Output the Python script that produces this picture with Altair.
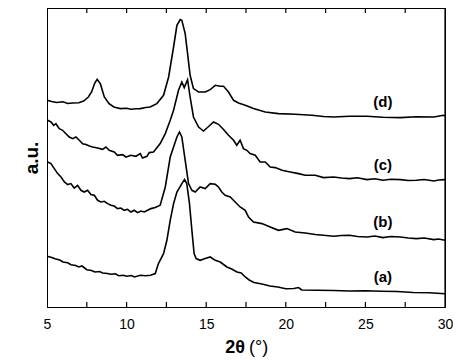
import altair as alt
import pandas as pd

# 2-theta (deg) and intensity (a.u., offset curves)
theta_a = [5.0, 5.3, 5.5, 5.8, 6.0, 6.3, 6.5, 6.8, 7.0, 7.2, 7.5, 7.8, 8.0, 8.3, 8.5, 8.8, 9.0, 9.3,
           9.5, 9.8, 10, 10.3, 10.5, 10.86, 11.2, 11.5, 11.8, 12.0, 12.32, 12.53, 12.74, 12.95, 13.16,
           13.47, 13.64, 13.78, 13.95, 14.1, 14.24, 14.37, 14.62, 14.94, 15.25, 15.57, 15.88, 16.3,
           16.6, 16.93, 17.2, 17.45, 17.7, 18, 18.5, 19, 19.5, 20, 20.5, 20.8, 21, 22, 23, 24, 25, 26,
           27, 28, 29, 29.5, 30]
int_a = [50.7, 49.5, 48.3, 47, 45, 44.2, 42.3, 41.5, 40, 41, 37.3, 36.5, 35, 35.5, 34, 33.5, 32.7, 33.2,
         31.3, 31.8, 30.7, 31.5, 30, 31.7, 31.2, 31.7, 33.4, 43.4, 53.4, 66.7, 86.7, 103.4, 115,
         123.4, 127.4, 123.4, 103.4, 76.7, 53.4, 48.4, 46.7, 48.4, 50, 46.7, 45, 40,
         38, 35, 34, 30, 27, 24.5, 23, 21, 20, 18.3, 18.5, 19.5, 17, 16.7, 16.5, 16, 16.2, 15.7,
         15.5, 14.5, 14.2, 13.8, 13.3]

theta_b = [5.04, 5.25, 5.46, 5.67, 5.88, 6.09, 6.30, 6.50, 6.71, 6.92, 7.13, 7.34, 7.55, 7.76, 7.97,
           8.18, 8.39, 8.60, 8.81, 9.01, 9.22, 9.43, 9.64, 9.85, 10.06, 10.27, 10.48, 10.69, 10.90,
           11.11, 11.32, 11.53, 11.8, 12.11, 12.43, 12.74, 12.95, 13.16, 13.32, 13.47, 13.68, 13.89,
           14.1, 14.31, 14.62, 14.94, 15.25, 15.57, 15.77, 15.98, 16.19, 16.51, 16.82, 17.13, 17.45,
           17.66, 17.97, 18.5, 19.02, 19.54, 20.07, 20.59, 21.22, 21.85, 22.37, 23.0, 23.5, 24.0,
           24.5, 25.1, 25.6, 26.1, 26.6, 27.2, 27.7, 28.2, 28.7, 29.3, 29.6, 30]
int_b = [145, 143.4, 138.4, 133.4, 130, 125, 122.4, 123.4, 119, 121.7, 116.7, 115, 116.7, 112.4, 111.7,
         106.7, 105, 105.7, 103.4, 101.7, 101, 98.4, 99, 96.7, 97.7, 95, 96.7, 94.4, 96,
         95, 96.7, 98.4, 99.4, 101.7, 120, 150, 160, 170, 175, 170, 146.7, 123.4,
         116.7, 115, 120, 118.4, 123.4, 122.7, 120, 115, 111.7, 110, 105, 100, 96.7,
         90, 85, 83.4, 80, 76.7, 78.4, 75, 74, 72.5, 71.7, 70.7, 71.5, 71.7,
         70.5, 70, 71, 69.4, 70.5, 70, 69, 68.4, 69, 67.4, 68, 66.7]

theta_c = [5.04, 5.25, 5.42, 5.56, 5.77, 5.98, 6.19, 6.40, 6.61, 6.82, 7.03, 7.24, 7.45, 7.66, 7.87,
           8.18, 8.49, 8.70, 8.91, 9.22, 9.43, 9.75, 9.96, 10.27, 10.58, 10.86, 11.0, 11.28, 11.42,
           11.69, 12.11, 12.43, 12.74, 12.95, 13.26, 13.47, 13.62, 13.83, 13.99, 14.2, 14.52, 14.83,
           15.15, 15.46, 15.77, 16.09, 16.40, 16.72, 16.92, 17.13, 17.34, 17.55, 17.76, 18.08, 18.39,
           18.71, 19.02, 19.34, 19.76, 20.28, 20.80, 21.22, 21.85, 22.37, 23.0, 23.5, 24.0, 24.5,
           25.1, 25.6, 26.1, 26.6, 27.2, 27.7, 28.2, 28.7, 29.3, 29.6, 30]
int_c = [186.7, 185, 181.7, 183.3, 178.3, 176.7, 173.3, 170, 168.3, 170, 166.7, 163.3, 162.4, 161, 160,
         159, 157.7, 160, 156.7, 155, 151.7, 152.4, 150, 151.7, 150.7, 153.4, 149, 150.7, 154.4,
         155, 163.4, 173.4, 186.7, 196.7, 216.7, 225, 219.4, 227.4, 210, 190, 180, 176,
         180.5, 185, 182.7, 177.5, 171.7, 166.7, 161.7, 166.7, 158.4, 156.7, 153.4, 151.7, 145,
         145, 140, 139.4, 136.7, 135, 133.4, 131.7, 131.7, 129.4, 130, 129, 128.4, 129.2,
         127.4, 128.2, 126.7, 127.8, 127.4, 126.5, 126.7, 127.5, 126, 127, 127.4]

theta_d = [5.0, 5.3, 5.6, 6.0, 6.3, 6.6, 7.0, 7.3, 7.6, 7.8, 8.0, 8.15, 8.35, 8.6, 8.9, 9.2, 9.6, 10.0,
           10.27, 10.6, 10.86, 11.2, 11.48, 11.9, 12.32, 12.64, 12.95, 13.16, 13.37, 13.47, 13.68,
           13.83, 13.99, 14.2, 14.52, 14.94, 15.25, 15.57, 15.88, 16.09, 16.40, 16.72, 17.03, 17.45,
           17.97, 18.71, 19.54, 20.59, 21.64, 22.37, 23.0, 24.0, 25.1, 26.1, 27.2, 28.2, 29.3, 29.9, 30]
int_d = [206.7, 205.5, 204.5, 205.2, 203.5, 204, 204.2, 206, 210, 215, 224, 227.7, 223.3, 210, 203.4,
         200, 198.4, 198.8, 197.7, 198.2, 198.4, 199.5, 200, 203.4, 211.7, 230, 260, 281.7, 287.4,
         286.7, 273.4, 253.4, 231.7, 218.4, 215, 215, 217.4, 221.7, 220.7, 220.7, 215, 206.7, 204,
         201.7, 198.4, 195, 193.4, 192.7, 191.7, 190.5, 190, 190.8, 190.7, 189.8, 189.4, 190.2,
         190, 191.7, 191]

labels = ["(a)", "(b)", "(c)", "(d)"]
label_theta = [26.1, 26.1, 26.1, 26.1]
label_int = [30, 85, 142.3, 205]

tick_values = [7.5, 10, 12.5, 15, 17.5, 20, 22.5, 25, 27.5]
major_ticks = [5, 10, 15, 20, 25, 30]

x_min, x_max = 5, 30
y_min, y_max = 0, 299
tick_len = 5

rows = []
idx = 0
for name, th, iv in [("a", theta_a, int_a), ("b", theta_b, int_b),
                     ("c", theta_c, int_c), ("d", theta_d, int_d)]:
    for t, v in zip(th, iv):
        rows.append({"series": name, "kind": "curve", "theta": t, "intensity": v, "idx": idx})
        idx += 1
# plot frame (top and right edges) as a polyline
for t, v in [(x_min, y_max), (x_max, y_max), (x_max, y_min)]:
    rows.append({"series": "frame", "kind": "frame", "theta": t, "intensity": v, "idx": idx})
    idx += 1
# inward ticks on bottom and top edges
for t in tick_values:
    for lo, hi, tag in [(y_min, y_min + tick_len, "b"), (y_max - tick_len, y_max, "t")]:
        for v in (lo, hi):
            rows.append({"series": f"tick{tag}{t}", "kind": "frame", "theta": t,
                         "intensity": v, "idx": idx})
            idx += 1
df = pd.DataFrame(rows)
lab_df = pd.DataFrame({"label": labels, "theta": label_theta, "intensity": label_int})

xscale = alt.Scale(domain=[x_min, x_max], nice=False, zero=False)
yscale = alt.Scale(domain=[y_min, y_max], nice=False, zero=False)

lines = alt.Chart(df).mark_line(color="black").encode(
    x=alt.X("theta:Q", scale=xscale,
            axis=alt.Axis(values=major_ticks, ticks=False, labelPadding=10, labelFontSize=14,
                          labelColor="black", domainColor="black", gridOpacity=0,
                          title=None, labelFlush=False)),
    y=alt.Y("intensity:Q", scale=yscale,
            axis=alt.Axis(labels=False, ticks=False, domainColor="black", gridOpacity=0,
                          title="a.u.", titleFontSize=19, titleFontWeight="bold",
                          titleColor="black", titlePadding=6)),
    detail="series:N",
    order="idx:Q",
    strokeWidth=alt.StrokeWidth("kind:N", scale=alt.Scale(domain=["curve", "frame"], range=[1.6, 1.2]),
                                legend=None),
)

texts = alt.Chart(lab_df).mark_text(fontSize=15, fontWeight="bold", color="black").encode(
    x=alt.X("theta:Q", scale=xscale), y=alt.Y("intensity:Q", scale=yscale), text="label:N")

# x-axis title "2θ (°)": bold symbol, regular unit, placed under the axis
title_df = pd.DataFrame({"txt": ["2θ", "(°)"], "theta": [17.44, 17.69], "intensity": [-41, -41],
                         "align": ["right", "left"]})
t1 = alt.Chart(title_df).transform_filter(alt.datum.align == "right").mark_text(
    fontSize=18, fontWeight="bold", align="right", baseline="middle",
    color="black", clip=False).encode(
    x=alt.X("theta:Q", scale=xscale), y=alt.Y("intensity:Q", scale=yscale), text="txt:N")
t2 = alt.Chart(title_df).transform_filter(alt.datum.align == "left").mark_text(
    fontSize=18, align="left", baseline="middle",
    color="black", clip=False).encode(
    x=alt.X("theta:Q", scale=xscale), y=alt.Y("intensity:Q", scale=yscale), text="txt:N")

chart = alt.layer(lines, texts, t1, t2).properties(
    width=398, height=299, background="white",
    autosize=alt.AutoSizeParams(type="none"),
    padding={"left": 39, "top": 0, "right": 8, "bottom": 50},
).configure_view(stroke="black", strokeWidth=1).configure_text(font="Liberation Sans").configure_axis(
    labelFont="Liberation Sans", titleFont="Liberation Sans")

chart.save("out.html", embed_options={"renderer": "svg", "actions": False})
